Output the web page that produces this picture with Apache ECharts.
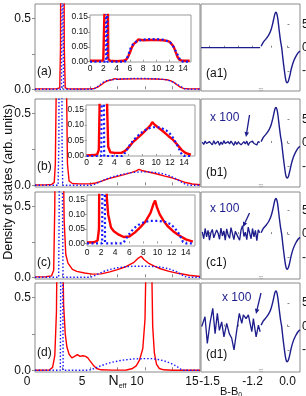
<!DOCTYPE html>
<html><head><meta charset="utf-8">
<script src="https://cdn.jsdelivr.net/npm/echarts@6/dist/echarts.min.js"></script>
<style>html,body{margin:0;padding:0;background:#fff}#c{width:306px;height:396px}</style>
</head><body><div id="c"></div>
<script>
// ---------------- DATA ----------------
// Left column: density of states vs N_eff, [N_eff, DOS] pairs (red = solid, blue = dotted)
const redA = [[0,0.003],[1,0.003],[2,0.004],[2.25,0.01],[2.32,0.3],[2.36,1.5],[2.5,3],[2.62,1.5],[2.66,0.3],[2.75,0.01],[3,0.003],[4,0.002],[5,0.003],[5.4,0.006],[5.7,0.015],[6,0.03],[6.3,0.048],[6.6,0.06],[7,0.067],[7.25,0.075],[7.5,0.071],[8,0.072],[9,0.073],[10,0.073],[11,0.072],[11.6,0.07],[12,0.067],[12.3,0.061],[12.6,0.05],[12.9,0.032],[13.2,0.015],[13.5,0.006],[14,0.003],[15,0.003]];
const blueA = [[0,0],[2.4,0],[2.45,0.5],[2.5,3],[2.55,0.5],[2.6,0],[5.2,0],[5.5,0.008],[5.8,0.025],[6.1,0.045],[6.5,0.06],[7,0.068],[8,0.074],[9,0.076],[10,0.076],[11,0.074],[12,0.067],[12.5,0.052],[13,0.032],[13.3,0.018],[13.6,0.004],[14,0],[15,0]];
const redB = [[0,0.002],[1,0.003],[1.5,0.005],[1.75,0.02],[1.85,0.15],[1.95,0.8],[2.1,2.5],[2.4,3],[2.7,2.5],[2.85,0.8],[2.95,0.15],[3.1,0.03],[3.4,0.012],[4,0.01],[5,0.01],[5.5,0.016],[6,0.027],[6.7,0.046],[7.5,0.062],[8.1,0.074],[8.8,0.09],[9.2,0.1],[9.45,0.11],[9.7,0.103],[10.2,0.094],[11,0.08],[11.8,0.064],[12.45,0.052],[13,0.038],[13.7,0.019],[14.3,0.009],[15,0.004]];
const blueB = [[0,0],[2.1,0],[2.17,0.3],[2.2,1.5],[2.25,3],[2.38,3],[2.42,1.5],[2.46,0.3],[2.52,0],[5.1,0],[5.4,0.006],[5.8,0.02],[6.2,0.035],[6.7,0.05],[7.2,0.062],[7.8,0.074],[8.4,0.083],[9,0.09],[9.6,0.093],[10.3,0.093],[10.9,0.089],[11.5,0.082],[12,0.072],[12.5,0.057],[13,0.037],[13.4,0.018],[13.7,0.005],[14,0],[15,0]];
const redC = [[0,0.003],[1,0.004],[1.5,0.01],[1.7,0.05],[1.8,0.5],[1.9,2],[2.3,3],[2.55,1],[2.65,0.4],[2.8,0.16],[3,0.1],[3.4,0.055],[3.8,0.042],[4.5,0.03],[5.2,0.022],[6,0.024],[6.8,0.038],[7.5,0.054],[8.3,0.076],[9,0.105],[9.4,0.135],[9.65,0.148],[9.9,0.125],[10.3,0.1],[10.8,0.08],[11.4,0.06],[12.2,0.042],[13,0.028],[14,0.014],[15,0.006]];
const blueC = [[0,0],[2.15,0],[2.2,0.5],[2.25,3],[2.45,3],[2.5,0.5],[2.55,0],[5,0],[5.3,0.007],[5.7,0.022],[6.2,0.04],[6.8,0.055],[7.5,0.067],[8.2,0.074],[9,0.078],[10,0.078],[11,0.075],[11.8,0.067],[12.4,0.054],[12.9,0.038],[13.3,0.02],[13.6,0.005],[14,0],[15,0]];
const redD = [[0,0],[1.3,0.002],[1.6,0.02],[1.8,0.1],[1.95,0.4],[2.05,1.2],[2.3,2],[2.45,1.2],[2.6,0.45],[2.75,0.25],[2.9,0.16],[3.1,0.11],[3.35,0.085],[3.6,0.095],[3.85,0.108],[4.1,0.095],[4.35,0.1],[4.6,0.095],[4.8,0.085],[5.0,0.065],[5.3,0.035],[5.6,0.012],[6,0.003],[7,0.001],[8.3,0.002],[8.8,0.01],[9.2,0.03],[9.5,0.07],[9.8,0.15],[10.0,0.35],[10.15,1],[10.35,2],[10.55,1],[10.7,0.3],[10.85,0.12],[11.05,0.04],[11.3,0.012],[11.7,0.003],[12.5,0],[15,0]];
const blueD = [[0,0],[2.3,0],[2.36,1],[2.43,3],[2.5,1],[2.56,0],[4.9,0],[5.3,0.01],[5.8,0.025],[6.4,0.042],[7,0.055],[8,0.07],[9,0.078],[10,0.08],[10.6,0.08],[11.2,0.074],[11.8,0.063],[12.4,0.046],[12.9,0.026],[13.2,0.01],[13.4,0],[15,0]];
const mainTicks = [0, 5, 10, 15];
const dosTicks = [0, 0.5];
const insetXTicks = [0, 2, 4, 6, 8, 10, 12, 14];
const insetYTicks = [0, 0.05, 0.10, 0.15];
const panelLabels = ['(a)', '(b)', '(c)', '(d)'];

// Right column: signal vs B-B0 (broken axis: noise part x100 and resonance part)
const a1B = [-1.559, -1.147];
const a1Val = [0, 0];
const noiseB = [-1.55,-1.54,-1.53,-1.52,-1.51,-1.50,-1.49,-1.48,-1.47,-1.46,-1.45,-1.44,-1.43,-1.42,-1.41,-1.40,-1.39,-1.38,-1.37,-1.36,-1.35,-1.34,-1.33,-1.32,-1.31,-1.30,-1.29,-1.28,-1.27,-1.26,-1.25,-1.24,-1.23,-1.22,-1.21,-1.20,-1.19,-1.18,-1.17,-1.16,-1.15];
const b1Noise = [0.2,-0.3,0.4,-0.1,-0.5,0.3,0.1,-0.4,0.5,-0.2,0.0,0.4,-0.5,0.2,-0.3,0.5,-0.1,-0.4,0.3,-0.2,0.4,0.1,-0.5,0.3,-0.3,0.2,0.5,-0.4,0.0,0.3,-0.2,0.4,-0.5,0.1,-0.3,0.4,-0.1,0.2,-0.4,0.3,0.1];
const c1Noise = [0.5,-1.0,1.2,-0.6,0.8,-1.3,0.3,1.0,-0.8,-1.2,0.9,0.2,-1.1,1.3,-0.4,0.7,-1.3,1.1,-0.2,-0.9,1.4,0.1,-1.2,0.6,1.0,-0.7,-1.3,0.9,1.8,-0.5,0.4,-1.2,1.5,0.2,-1.0,1.2,-0.6,0.8,-1.4,0.9,0.3];
const d1B = [-1.554,-1.531,-1.515,-1.496,-1.477,-1.461,-1.445,-1.431,-1.415,-1.399,-1.380,-1.362,-1.345,-1.329,-1.310,-1.292,-1.275,-1.264,-1.245,-1.229,-1.217,-1.205,-1.194,-1.175,-1.159,-1.147];
const d1Noise = [0,2.1,-3.6,0.8,3.9,-1.5,2.8,-0.8,1.0,-2.2,0.7,-1.5,-2.5,-5.0,-0.8,2.8,0.7,2.5,1.7,2.5,0.7,-1.1,1.7,-2.2,0.3,-1.1];
const waveB = [-0.8,-0.733,-0.65,-0.57,-0.5,-0.45,-0.41,-0.38,-0.35,-0.32,-0.29,-0.25,-0.21,-0.176,-0.14,-0.1,-0.06,-0.03,-0.005,0.03,0.07,0.12,0.18,0.25,0.32,0.379];
const waveV = [0.3,1.2,1.9,2.7,3.8,5.1,6.4,7.3,7.6,7.2,6.0,3.6,1.4,0,-2.3,-4.6,-6.6,-7.4,-7.5,-7.1,-6.0,-4.4,-3.0,-1.9,-1.1,-0.7];
const bLeftTicks = [-1.5, -1.2];
const bRightTicks = [-0.5, 0.0];
const sigTicks = [-5, 0, 5];
const rightLabels = ['(a1)', '(b1)', '(c1)', '(d1)'];

// ---------------- BUILD ----------------
const FONT = "'Liberation Sans', Arial, sans-serif";
const RED = '#ff0000', BLUE = '#1a1aff', NAVY = '#1c1c8c', FRAME = '#8a8a8a', TXT = '#111';
const grids = [], xAxes = [], yAxes = [], series = [], graphic = [];
const zip = (a, b) => a.map((v, i) => [v, b[i]]);
const G = o => Object.assign({outerBoundsMode:'none', containLabel:false}, o);

const mainRows = [{top:4,h:87},{top:99,h:88},{top:192,h:87},{top:283,h:89}];
const reds = [redA, redB, redC, redD], blues = [blueA, blueB, blueC, blueD];

mainRows.forEach((r, i) => {
  const gi = grids.length;
  grids.push(G({left:35, top:r.top, width:165, height:r.h, show:true, borderColor:FRAME, borderWidth:1, backgroundColor:'transparent'}));
  xAxes.push({gridIndex:gi, type:'value', min:0, max:15, axisLine:{show:false}, splitLine:{show:false},
    axisTick:{show:true, inside:true, length:3, customValues:[2.5,5,7.5,10,12.5], lineStyle:{color:FRAME}},
    axisLabel:{show:i===3, customValues:mainTicks, fontSize:12, color:TXT, margin:4, padding:[0,16,0,0], fontFamily:FONT},
    name: i===3 ? '{n|N}{s|eff}' : '', nameLocation:'middle', nameGap:2, nameMoveOverlap:false,
    nameTextStyle:{rich:{n:{fontSize:14, fontFamily:FONT, color:TXT, lineHeight:16, verticalAlign:'top'}, s:{fontSize:7, fontFamily:FONT, color:TXT, lineHeight:8, verticalAlign:'bottom'}}}});
  yAxes.push({gridIndex:gi, type:'value', min:-0.012, max:0.6, axisLine:{show:false}, splitLine:{show:false},
    axisTick:{show:true, inside:false, length:3, customValues:[0,0.25,0.5], lineStyle:{color:FRAME}},
    axisLabel:{customValues:dosTicks, formatter:v=>v.toFixed(1), fontSize:12, margin:4, color:TXT, fontFamily:FONT}});
  series.push({type:'line', xAxisIndex:gi, yAxisIndex:gi, data:reds[i], showSymbol:false, symbol:'none', lineStyle:{color:RED, width:1.4}, z:2});
  series.push({type:'line', xAxisIndex:gi, yAxisIndex:gi, data:blues[i], showSymbol:false, symbol:'none', lineStyle:{color:BLUE, width:1.4, type:[1.5,2]}, z:3});
  graphic.push({type:'text', x:37, y:[72,167,263,353][i], style:{text:panelLabels[i], fontSize:12, fontFamily:FONT, fill:TXT, verticalAlign:'middle'}});
});

const insets = [
  {l:90, t:15, w:101, h:47, xmin:0, xmax:15.2, ymin:-0.001, ymax:0.157},
  {l:86, t:105, w:109, h:51, xmin:-0.1, xmax:15.6, ymin:0, ymax:0.165},
  {l:87, t:195, w:108, h:51, xmin:0, xmax:15.3, ymin:-0.009, ymax:0.167}
];
insets.forEach((s, i) => {
  const gi = grids.length;
  grids.push(G({left:s.l, top:s.t, width:s.w, height:s.h, show:true, borderColor:'#9a9a9a', borderWidth:1, backgroundColor:'#fff', z:5}));
  xAxes.push({gridIndex:gi, type:'value', min:s.xmin, max:s.xmax, axisLine:{show:false}, splitLine:{show:false}, z:6,
    axisTick:{show:true, inside:true, length:2, customValues:insetXTicks, lineStyle:{color:'#9a9a9a'}},
    axisLabel:{customValues:insetXTicks, fontSize:8.5, margin:2, color:TXT, fontFamily:FONT}});
  yAxes.push({gridIndex:gi, type:'value', min:s.ymin, max:s.ymax, axisLine:{show:false}, splitLine:{show:false}, z:6,
    axisTick:{show:true, inside:false, length:2, customValues:insetYTicks, lineStyle:{color:'#9a9a9a'}},
    axisLabel:{customValues:insetYTicks, formatter:v=>v.toFixed(2), fontSize:8.5, margin:2, color:TXT, fontFamily:FONT}});
  series.push({type:'line', xAxisIndex:gi, yAxisIndex:gi, data:reds[i], showSymbol:false, symbol:'none', lineStyle:{color:RED, width:2.4}, z:7});
  series.push({type:'line', xAxisIndex:gi, yAxisIndex:gi, data:blues[i], showSymbol:false, symbol:'none', lineStyle:{color:BLUE, width:2.2, type:[2,2.5]}, z:8});
});

const rightRows = [
  {top:4, h:87, ymin:-9.27, ymax:9.36},
  {top:99, h:88, ymin:-9.42, ymax:9.42},
  {top:192, h:87, ymin:-9.6, ymax:9.0},
  {top:283, h:89, ymin:-9.7, ymax:9.3}
];
const noiseSets = [zip(a1B, a1Val), zip(noiseB, b1Noise), zip(noiseB, c1Noise), zip(d1B, d1Noise)];
const wave = zip(waveB, waveV);
rightRows.forEach((r, i) => {
  const last = i === 3;
  let gi = grids.length;
  grids.push(G({left:201, top:r.top, width:99, height:r.h, show:true, borderColor:FRAME, borderWidth:1, backgroundColor:'transparent'}));
  xAxes.push({gridIndex:gi, type:'value', show:false, min:0, max:1});
  yAxes.push({gridIndex:gi, type:'value', show:false, min:0, max:1});
  gi = grids.length;
  grids.push(G({left:201, top:r.top, width:60, height:r.h}));
  xAxes.push({gridIndex:gi, type:'value', min:-1.559, max:-1.141, axisLine:{show:false}, splitLine:{show:false},
    axisTick:{show:true, inside:true, length:2, customValues:[-1.5,-1.4,-1.3,-1.2], lineStyle:{color:FRAME}},
    axisLabel:{show:last, customValues:bLeftTicks, formatter:v=>v.toFixed(1), fontSize:12, margin:4, color:TXT, fontFamily:FONT},
    name: last ? '{n|B-B}{s|0}' : '', nameLocation:'middle', nameGap:14, nameMoveOverlap:false,
    nameTextStyle:{rich:{n:{fontSize:11, fontFamily:FONT, color:TXT, lineHeight:13, verticalAlign:'top'}, s:{fontSize:7, fontFamily:FONT, color:TXT, lineHeight:8, verticalAlign:'bottom'}}}});
  yAxes.push({gridIndex:gi, type:'value', min:r.ymin, max:r.ymax, show:false});
  series.push({type:'line', xAxisIndex:gi, yAxisIndex:gi, data:noiseSets[i], showSymbol:false, symbol:'none', lineStyle:{color:NAVY, width:1.3}});
  gi = grids.length;
  grids.push(G({left:261, top:r.top, width:39, height:r.h}));
  xAxes.push({gridIndex:gi, type:'value', min:-0.803, max:0.379, axisLine:{show:false}, splitLine:{show:false},
    axisTick:{show:true, inside:true, length:2, customValues:[-0.5,0], lineStyle:{color:FRAME}},
    axisLabel:{show:last, customValues:bRightTicks, formatter:v=>v.toFixed(1), fontSize:12, margin:4, color:TXT, fontFamily:FONT}});
  yAxes.push({gridIndex:gi, type:'value', position:'right', min:r.ymin, max:r.ymax, axisLine:{show:false}, splitLine:{show:false},
    axisTick:{show:true, inside:false, length:2, customValues:sigTicks, lineStyle:{color:FRAME}},
    axisLabel:{customValues:sigTicks, fontSize:12, margin:2, color:TXT, fontFamily:FONT}});
  series.push({type:'line', xAxisIndex:gi, yAxisIndex:gi, data:wave, smooth:0.2, showSymbol:false, symbol:'none', lineStyle:{color:NAVY, width:1.4}});
  graphic.push({type:'text', x:206, y:[74,173,263,355][i], style:{text:rightLabels[i], fontSize:12, fontFamily:FONT, fill:TXT, verticalAlign:'middle'}});
  graphic.push({type:'text', x:261, y:r.top + r.h - 1, style:{text:'\u2248', fontSize:8, fontFamily:FONT, fill:'#999', align:'center', verticalAlign:'middle'}});
});

function arrow(x1, y1, x2, y2) {
  const dx = x2 - x1, dy = y2 - y1, L = Math.hypot(dx, dy), ux = dx / L, uy = dy / L;
  const bx = x2 - 5 * ux, by = y2 - 5 * uy, px = -uy * 2.3, py = ux * 2.3;
  graphic.push({type:'line', shape:{x1:x1, y1:y1, x2:bx, y2:by}, style:{stroke:NAVY, lineWidth:1.3}});
  graphic.push({type:'polygon', shape:{points:[[x2,y2],[bx+px,by+py],[bx-px,by-py]]}, style:{fill:NAVY}});
}
[[210,118],[210,209],[222,298]].forEach(p => graphic.push({type:'text', x:p[0], y:p[1], style:{text:'x 100', fontSize:12, fontFamily:FONT, fill:NAVY, verticalAlign:'middle'}}));
arrow(249.5, 115, 246, 137);
arrow(249.5, 213, 243, 227);
arrow(261, 293, 256, 314);

graphic.push({type:'text', x:9, y:182, rotation:Math.PI/2, style:{text:'Density of states (arb. units)', fontSize:12.5, fontFamily:FONT, fill:TXT, align:'center', verticalAlign:'middle'}});

const chart = echarts.init(document.getElementById('c'), null, {renderer:'canvas'});
chart.setOption({
  animation:false,
  backgroundColor:'#fff',
  textStyle:{fontFamily:FONT},
  grid:grids, xAxis:xAxes, yAxis:yAxes, series:series, graphic:graphic
});
</script></body></html>
